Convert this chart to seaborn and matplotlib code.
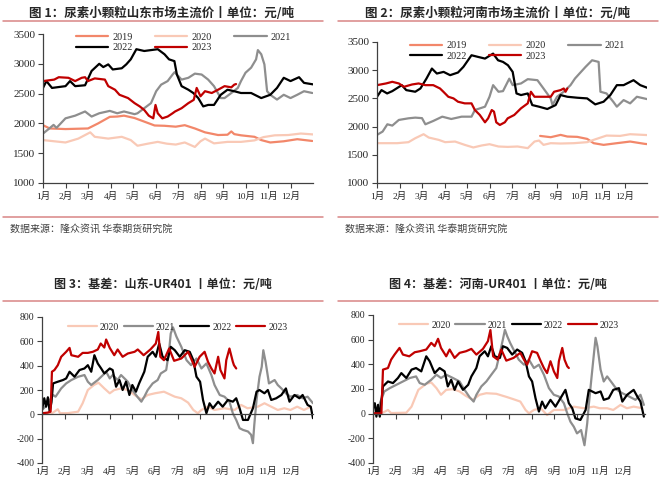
import numpy as np
import pandas as pd
import matplotlib
matplotlib.use("Agg")
import matplotlib.pyplot as plt
from matplotlib.lines import Line2D
import seaborn as sns

MONTHS = [f"{i}月" for i in range(1, 13)]
YEARS_P = ["2019", "2020", "2021", "2022", "2023"]
YEARS_B = ["2020", "2021", "2022", "2023"]
COLORS = {"2019": "#F2876A", "2020": "#F9C9B6", "2021": "#8E8E8E",
          "2022": "#000000", "2023": "#C00000"}

TITLE1 = "图 1：尿素小颗粒山东市场主流价丨单位：元/吨"
TITLE2 = "图 2：尿素小颗粒河南市场主流价丨单位：元/吨"
TITLE3 = "图 3：基差：山东-UR401 丨单位：元/吨"
TITLE4 = "图 4：基差：河南-UR401 丨单位：元/吨"
SOURCE = "数据来源：隆众资讯 华泰期货研究院"

# ---------------- Panel 1: Shandong price ----------------
SD19_M = [0, 0.3, 1.0, 2.0, 2.45, 2.97, 3.3, 3.6, 4.07, 4.5, 4.96, 5.4, 5.9, 6.3, 6.75, 7.2, 7.78, 8.2, 8.37, 8.5, 8.8, 9.4, 9.7, 10.1, 10.7, 11.3, 11.97]
SD19_V = [1970, 1915, 1905, 1915, 2000, 2110, 2115, 2130, 2090, 2030, 1965, 1960, 1945, 1970, 1915, 1850, 1805, 1810, 1865, 1820, 1800, 1775, 1720, 1680, 1700, 1735, 1705]
SD20_M = [0, 1.0, 1.57, 2.1, 2.3, 2.9, 3.5, 3.9, 4.2, 4.66, 5.1, 5.5, 5.9, 6.3, 6.75, 7.0, 7.2, 7.6, 8.2, 8.8, 9.4, 9.8, 10.3, 10.9, 11.46, 12.0]
SD20_V = [1720, 1680, 1745, 1850, 1775, 1745, 1775, 1720, 1625, 1660, 1690, 1660, 1645, 1680, 1605, 1700, 1745, 1665, 1690, 1690, 1715, 1770, 1800, 1805, 1830, 1815]
SD21_M = [0, 0.2, 0.47, 0.6, 1.0, 1.43, 1.87, 2.16, 2.5, 2.97, 3.3, 3.6, 4.07, 4.2, 4.5, 4.8, 5.03, 5.25, 5.54, 5.76, 5.85, 6.16, 6.46, 6.75, 7.05, 7.34, 7.6, 7.9, 8.07, 8.37, 8.66, 8.8, 9.0, 9.25, 9.47, 9.55, 9.7, 9.84, 9.96, 10.1, 10.4, 10.7, 11.0, 11.3, 11.6, 11.97]
SD21_V = [1830, 1890, 1975, 1925, 2085, 2130, 2200, 2115, 2170, 2210, 2170, 2200, 2155, 2170, 2255, 2340, 2540, 2650, 2710, 2820, 2860, 2735, 2765, 2835, 2820, 2735, 2625, 2425, 2425, 2510, 2595, 2710, 2850, 2935, 3075, 3230, 3160, 2990, 2540, 2480, 2400, 2480, 2425, 2480, 2540, 2510]
SD22_M = [0, 0.15, 0.4, 1.0, 1.2, 1.43, 1.87, 2.16, 2.5, 2.68, 2.9, 3.1, 3.5, 3.7, 3.9, 4.15, 4.5, 4.8, 5.1, 5.4, 5.6, 5.84, 5.95, 6.16, 6.46, 6.68, 6.9, 7.12, 7.34, 7.6, 7.9, 8.2, 8.5, 8.8, 9.25, 9.7, 10.1, 10.4, 10.7, 11.0, 11.38, 11.6, 12.0]
SD22_V = [2595, 2710, 2595, 2625, 2710, 2625, 2640, 2880, 3000, 2945, 2990, 2905, 2925, 2990, 3075, 3245, 3215, 3230, 3245, 3160, 3075, 3045, 2820, 2625, 2565, 2510, 2425, 2285, 2310, 2310, 2480, 2565, 2540, 2510, 2510, 2425, 2480, 2595, 2765, 2710, 2775, 2680, 2655]
SD23_M = [0, 0.5, 0.7, 1.13, 1.43, 1.72, 1.87, 2.0, 2.3, 2.75, 2.9, 3.2, 3.4, 3.78, 4.07, 4.3, 4.5, 4.7, 4.9, 5.0, 5.1, 5.3, 5.54, 5.76, 5.87, 6.16, 6.46, 6.7, 6.83, 7.0, 7.2, 7.5, 7.78, 8.07, 8.37, 8.5, 8.58]
SD23_V = [2710, 2735, 2775, 2765, 2710, 2765, 2775, 2710, 2755, 2735, 2625, 2565, 2480, 2425, 2340, 2285, 2225, 2130, 2085, 2310, 2170, 2085, 2115, 2170, 2200, 2255, 2340, 2395, 2595, 2455, 2540, 2510, 2565, 2625, 2605, 2650, 2660]

# ---------------- Panel 2: Henan price ----------------
HN19_M = [7.25, 7.72, 8.16, 8.46, 8.9, 9.34, 9.63, 10.07, 10.66, 11.25, 11.9, 12.0]
HN19_V = [1835, 1812, 1853, 1824, 1818, 1782, 1706, 1676, 1706, 1735, 1694, 1690]
HN20_M = [0, 0.9, 1.4, 1.7, 2.07, 2.3, 2.74, 3.03, 3.47, 3.9, 4.28, 4.65, 5.0, 5.4, 5.81, 6.25, 6.7, 7.0, 7.2, 7.4, 7.72, 8.16, 8.75, 9.34, 9.63, 10.2, 10.8, 11.25, 12.0]
HN20_V = [1706, 1706, 1724, 1794, 1865, 1806, 1765, 1724, 1735, 1676, 1630, 1665, 1688, 1647, 1640, 1647, 1618, 1735, 1753, 1676, 1706, 1700, 1706, 1724, 1765, 1841, 1835, 1865, 1850]
HN21_M = [0, 0.25, 0.46, 0.68, 0.97, 1.4, 1.7, 2.0, 2.15, 2.5, 2.9, 3.3, 3.76, 4.2, 4.35, 4.8, 5.0, 5.16, 5.4, 5.6, 5.88, 6.03, 6.4, 6.7, 7.13, 7.4, 7.72, 7.8, 8.0, 8.3, 8.6, 8.8, 9.0, 9.27, 9.56, 9.85, 9.93, 10.2, 10.5, 10.66, 10.96, 11.25, 11.55, 12.0]
HN21_V = [1853, 1912, 2041, 2018, 2118, 2147, 2159, 2150, 2041, 2100, 2176, 2135, 2176, 2176, 2294, 2353, 2529, 2735, 2618, 2629, 2850, 2735, 2765, 2841, 2823, 2676, 2500, 2382, 2529, 2618, 2735, 2853, 2941, 3059, 3176, 3147, 2618, 2588, 2441, 2353, 2470, 2412, 2529, 2488]
HN22_M = [0, 0.2, 0.45, 0.68, 1.1, 1.3, 1.7, 1.93, 2.2, 2.44, 2.66, 2.96, 3.25, 3.6, 3.84, 4.2, 4.5, 4.8, 5.16, 5.38, 5.6, 5.82, 6.03, 6.2, 6.4, 6.7, 6.9, 7.2, 7.57, 7.94, 8.16, 8.46, 8.9, 9.34, 9.7, 10.07, 10.37, 10.66, 10.96, 11.4, 11.7, 12.0]
HN22_V = [2529, 2647, 2588, 2629, 2735, 2647, 2618, 2676, 2853, 3029, 2941, 2970, 2912, 2959, 3059, 3265, 3235, 3206, 3294, 3176, 3147, 3088, 2970, 2588, 2559, 2588, 2382, 2353, 2312, 2382, 2559, 2529, 2512, 2500, 2394, 2441, 2559, 2735, 2735, 2823, 2735, 2690]
HN23_M = [0, 0.4, 0.68, 0.97, 1.2, 1.56, 1.85, 2.15, 2.5, 2.8, 2.95, 3.17, 3.4, 3.6, 3.9, 4.2, 4.35, 4.57, 4.8, 4.94, 5.1, 5.2, 5.3, 5.46, 5.68, 5.81, 6.1, 6.4, 6.7, 6.84, 7.0, 7.4, 7.72, 7.87, 8.16, 8.3, 8.38, 8.46]
HN23_V = [2735, 2765, 2794, 2765, 2706, 2747, 2765, 2735, 2735, 2676, 2618, 2529, 2500, 2441, 2412, 2412, 2294, 2206, 2076, 2147, 2294, 2265, 2076, 2029, 2076, 2147, 2206, 2324, 2412, 2618, 2529, 2529, 2529, 2618, 2647, 2676, 2618, 2676]

# ---------------- Panel 3: Shandong basis ----------------
BSD20_M = [0, 0.4, 0.7, 0.8, 1.15, 1.6, 1.8, 2.03, 2.3, 2.5, 2.76, 3.0, 3.2, 3.5, 3.8, 4.1, 4.4, 4.68, 5.0, 5.4, 5.88, 6.17, 6.47, 6.7, 6.9, 7.06, 7.35, 7.64, 8.08, 8.53, 8.82, 9.1, 9.56, 9.85, 10.15, 10.44, 10.73, 11.0, 11.3, 11.6, 11.9]
BSD20_V = [9, 3, 42, 9, 10, 22, 91, 200, 241, 260, 213, 173, 200, 213, 200, 159, 123, 159, 173, 186, 145, 132, 96, 36, 9, 36, 63, 36, 50, 36, 77, 50, 63, 91, 63, 36, 50, 36, 63, 36, 63]
BSD21_M = [0, 0.15, 0.3, 0.49, 0.6, 0.85, 1.07, 1.3, 1.6, 1.88, 2.03, 2.18, 2.47, 2.7, 2.84, 3.0, 3.13, 3.35, 3.5, 3.8, 4.0, 4.24, 4.4, 4.53, 4.68, 4.9, 5.12, 5.26, 5.5, 5.63, 5.7, 5.8, 5.95, 6.17, 6.4, 6.6, 6.84, 7.06, 7.28, 7.5, 7.64, 7.87, 8.08, 8.3, 8.45, 8.6, 8.75, 8.9, 9.12, 9.26, 9.34, 9.4, 9.5, 9.63, 9.73, 9.8, 9.9, 10.05, 10.3, 10.44, 10.6, 10.8, 11.0, 11.3, 11.54, 11.76, 12.0]
BSD21_V = [36, 63, 104, 159, 145, 213, 254, 282, 309, 323, 268, 241, 282, 323, 350, 295, 323, 282, 323, 268, 200, 140, 104, 145, 200, 254, 282, 336, 364, 527, 664, 715, 640, 555, 445, 404, 459, 377, 418, 323, 241, 159, 145, 104, 9, -46, -114, -128, -141, -168, -237, -87, 118, 309, 391, 527, 432, 254, 282, 241, 213, 173, 145, 159, 132, 145, 91]
BSD22_M = [0, 0.1, 0.18, 0.26, 0.34, 0.42, 0.49, 0.7, 0.93, 1.07, 1.22, 1.44, 1.66, 1.88, 2.03, 2.18, 2.32, 2.47, 2.62, 2.76, 3.0, 3.13, 3.28, 3.43, 3.57, 3.72, 3.87, 4.0, 4.16, 4.3, 4.53, 4.68, 4.9, 5.04, 5.19, 5.34, 5.56, 5.7, 5.88, 6.1, 6.32, 6.54, 6.7, 6.84, 7.0, 7.13, 7.28, 7.42, 7.57, 7.8, 8.0, 8.23, 8.45, 8.6, 8.75, 8.9, 9.12, 9.34, 9.5, 9.63, 9.85, 10.0, 10.15, 10.37, 10.6, 10.8, 10.96, 11.18, 11.4, 11.54, 11.76, 11.9, 12.0]
BSD22_V = [36, 132, 63, 140, 22, 100, 254, 268, 282, 295, 350, 309, 364, 377, 404, 350, 486, 418, 377, 336, 377, 364, 227, 282, 200, 268, 159, 241, 186, 254, 350, 473, 514, 473, 582, 473, 445, 555, 527, 473, 527, 514, 445, 309, 268, 118, 9, 91, 50, 104, 63, 118, 104, 132, 50, -46, -46, 50, 186, 200, 173, 200, 118, 132, 159, 213, 104, 159, 132, 159, 77, 63, -32]
BSD23_M = [0, 0.25, 0.38, 0.44, 0.55, 0.7, 0.85, 1.07, 1.22, 1.3, 1.6, 1.8, 2.03, 2.25, 2.47, 2.6, 2.76, 2.84, 3.0, 3.2, 3.35, 3.57, 3.8, 4.1, 4.24, 4.5, 4.8, 5.04, 5.15, 5.24, 5.4, 5.63, 5.85, 6.17, 6.47, 6.6, 6.76, 6.98, 7.2, 7.35, 7.5, 7.64, 7.8, 7.9, 8.08, 8.16, 8.3, 8.45, 8.5, 8.6]
BSD23_V = [9, 14, 22, 350, 364, 404, 473, 514, 546, 486, 473, 505, 505, 514, 533, 582, 549, 615, 546, 486, 533, 473, 500, 514, 533, 486, 533, 582, 677, 473, 445, 541, 440, 459, 514, 459, 391, 473, 514, 432, 377, 336, 473, 364, 295, 445, 541, 432, 404, 377]

# ---------------- Panel 4: Henan basis ----------------
BHN20_M = [0, 0.4, 0.66, 0.8, 1.47, 1.7, 2.0, 2.35, 2.57, 2.8, 3.0, 3.23, 3.53, 3.82, 4.1, 4.4, 4.7, 5.0, 5.44, 5.92, 6.2, 6.5, 6.73, 6.88, 7.1, 7.4, 7.68, 7.98, 8.42, 8.86, 9.3, 9.74, 10.0, 10.33, 10.6, 10.92, 11.2, 11.5, 11.88]
BHN20_V = [3, 5, 30, 5, 8, 57, 193, 242, 253, 207, 153, 193, 199, 180, 144, 112, 153, 166, 161, 134, 117, 98, 30, 3, 30, 44, -11, 30, 30, 57, 44, 57, 44, 44, 30, 71, 44, 57, 44]
BHN21_M = [0, 0.22, 0.5, 0.74, 1.03, 1.32, 1.62, 1.9, 2.06, 2.28, 2.57, 2.8, 3.0, 3.23, 3.53, 3.82, 4.04, 4.26, 4.44, 4.56, 4.78, 5.0, 5.22, 5.44, 5.6, 5.73, 5.82, 5.92, 6.05, 6.2, 6.43, 6.66, 6.88, 7.1, 7.32, 7.54, 7.76, 7.98, 8.2, 8.42, 8.57, 8.71, 8.86, 9.0, 9.18, 9.33, 9.45, 9.52, 9.63, 9.72, 9.82, 9.9, 10.04, 10.18, 10.33, 10.55, 10.77, 11.0, 11.3, 11.58, 11.8, 11.95]
BHN21_V = [57, 44, 180, 207, 234, 261, 289, 302, 248, 234, 275, 316, 289, 316, 289, 261, 193, 134, 98, 153, 221, 261, 316, 370, 493, 601, 680, 629, 574, 520, 438, 397, 438, 370, 397, 316, 207, 153, 139, 85, 3, -65, -106, -160, -133, -256, -79, 71, 275, 438, 615, 547, 357, 261, 302, 248, 193, 166, 139, 112, 153, 71]
BHN22_M = [0, 0.08, 0.15, 0.22, 0.3, 0.37, 0.44, 0.66, 0.88, 1.1, 1.25, 1.47, 1.7, 1.9, 2.13, 2.35, 2.5, 2.72, 2.94, 3.16, 3.3, 3.45, 3.6, 3.75, 3.97, 4.2, 4.34, 4.56, 4.7, 4.93, 5.07, 5.22, 5.37, 5.6, 5.73, 5.92, 6.14, 6.36, 6.58, 6.73, 6.88, 7.02, 7.17, 7.32, 7.46, 7.6, 7.83, 8.05, 8.27, 8.49, 8.64, 8.79, 8.93, 9.15, 9.38, 9.52, 9.67, 9.82, 10.04, 10.18, 10.4, 10.6, 10.85, 11.0, 11.21, 11.5, 11.66, 11.8, 11.95]
BHN22_V = [44, 85, -24, 71, -24, 100, 221, 261, 248, 289, 329, 289, 357, 370, 343, 465, 425, 329, 370, 343, 221, 275, 193, 261, 193, 234, 302, 370, 465, 506, 465, 547, 465, 452, 547, 533, 479, 520, 493, 425, 302, 261, 125, 17, 98, 44, 112, 57, 125, 193, 85, 44, -38, -51, 30, 193, 180, 166, 180, 112, 125, 193, 207, 98, 153, 193, 139, 98, -24]
BHN23_M = [0, 0.37, 0.44, 0.66, 0.8, 0.95, 1.17, 1.32, 1.6, 1.84, 2.06, 2.35, 2.57, 2.72, 2.87, 3.0, 3.23, 3.38, 3.6, 3.82, 4.1, 4.34, 4.56, 4.85, 5.07, 5.18, 5.3, 5.5, 5.66, 5.88, 6.2, 6.5, 6.66, 6.8, 7.02, 7.24, 7.4, 7.54, 7.68, 7.83, 7.98, 8.13, 8.2, 8.35, 8.45, 8.57, 8.64]
BHN23_V = [3, 3, 357, 370, 438, 479, 533, 479, 465, 498, 506, 520, 574, 547, 607, 533, 465, 520, 452, 493, 506, 525, 479, 525, 588, 678, 465, 438, 520, 430, 452, 493, 438, 397, 506, 493, 425, 370, 329, 425, 343, 289, 425, 533, 438, 384, 370]


def build(series):
    frames = []
    for year, (m, v) in series.items():
        frames.append(pd.DataFrame({"month": m, "value": v, "year": year, "order": range(len(m))}))
    return pd.concat(frames, ignore_index=True)


df1 = build({"2019": (SD19_M, SD19_V), "2020": (SD20_M, SD20_V), "2021": (SD21_M, SD21_V),
             "2022": (SD22_M, SD22_V), "2023": (SD23_M, SD23_V)})
df2 = build({"2019": (HN19_M, HN19_V), "2020": (HN20_M, HN20_V), "2021": (HN21_M, HN21_V),
             "2022": (HN22_M, HN22_V), "2023": (HN23_M, HN23_V)})
df3 = build({"2020": (BSD20_M, BSD20_V), "2021": (BSD21_M, BSD21_V),
             "2022": (BSD22_M, BSD22_V), "2023": (BSD23_M, BSD23_V)})
df4 = build({"2020": (BHN20_M, BHN20_V), "2021": (BHN21_M, BHN21_V),
             "2022": (BHN22_M, BHN22_V), "2023": (BHN23_M, BHN23_V)})

sns.set_theme(style="white")
plt.rcParams["font.family"] = ["Liberation Serif", "Noto Sans CJK SC", "DejaVu Sans"]
plt.rcParams["axes.unicode_minus"] = False

fig = plt.figure(figsize=(6.59, 4.82), dpi=100)
fig.patch.set_facecolor("white")

W, H = 659.0, 482.0
def ax_at(l, r, t, b):
    return fig.add_axes([l / W, 1 - b / H, (r - l) / W, (b - t) / H])

ax1 = ax_at(43, 313, 34, 183)
ax2 = ax_at(377, 647, 42, 183)
ax3 = ax_at(42, 313, 317, 463)
ax4 = ax_at(373, 645, 315, 463)

LW = 1.6


def draw(ax, df, years, ylim, yticks, basis, fs_y, fs_x, fs_leg):
    sns.lineplot(data=df, x="month", y="value", hue="year", hue_order=years,
                 palette=COLORS, estimator=None, sort=False, units="year",
                 linewidth=LW, ax=ax, legend=False)
    ax.set_xlim(0, 12)
    ax.set_ylim(*ylim)
    ax.set_yticks(yticks)
    ax.set_yticklabels([str(t) for t in yticks], fontsize=fs_y)
    ax.set_xlabel("")
    ax.set_ylabel("")
    for s in ["top", "right"]:
        ax.spines[s].set_visible(False)
    for s in ["left", "bottom"]:
        ax.spines[s].set_color("#404040")
        ax.spines[s].set_linewidth(0.9)
    ax.tick_params(axis="y", direction="out", length=3.5, width=0.8, color="#404040", pad=2, left=True)
    ax.tick_params(axis="x", direction="out", length=3.5, width=0.8, color="#404040", bottom=True)
    ax.set_xticks(range(12))
    if basis:
        ax.spines["bottom"].set_position(("data", 0))
        ax.tick_params(axis="x", labelbottom=False)
        sec = ax.secondary_xaxis("bottom")
        sec.set_xticks(range(12))
        sec.set_xticklabels(MONTHS, fontsize=fs_x)
        sec.tick_params(length=0, pad=3)
        sec.spines["bottom"].set_visible(False)
    else:
        ax.set_xticklabels(MONTHS, fontsize=fs_x)
        ax.tick_params(axis="x", pad=3)
    handles = {y: Line2D([], [], color=COLORS[y], lw=LW) for y in years}
    if len(years) == 5:
        order = ["2019", "2022", "2020", "2023", "2021"]
        ax.legend([handles[y] for y in order], order, ncol=3, frameon=False,
                  loc="upper center", bbox_to_anchor=(0.52, 1.07), fontsize=fs_leg,
                  handlelength=3.2, columnspacing=2.2, handletextpad=0.4, labelspacing=0.15)
    else:
        ax.legend([handles[y] for y in years], years, ncol=4, frameon=False,
                  loc="upper center", bbox_to_anchor=(0.5, 1.02), fontsize=fs_leg,
                  handlelength=3.0, columnspacing=0.5, handletextpad=0.3)


draw(ax1, df1, YEARS_P, (1000, 3500), list(range(1000, 3501, 500)), False, 8, 6.8, 7.3)
draw(ax2, df2, YEARS_P, (1000, 3500), list(range(1000, 3501, 500)), False, 8, 6.8, 7.3)
draw(ax3, df3, YEARS_B, (-400, 800), list(range(-400, 801, 200)), True, 7, 6.8, 7)
draw(ax4, df4, YEARS_B, (-400, 800), list(range(-400, 801, 200)), True, 7, 6.8, 7)

TFONT = ["Noto Sans CJK SC", "DejaVu Sans"]
LINE_C = "#D98585"
# titles and decoration
fig.text(162 / W, 1 - 13 / H, TITLE1, ha="center", va="center", fontsize=9, fontweight="bold", family=TFONT)
fig.text(498 / W, 1 - 13 / H, TITLE2, ha="center", va="center", fontsize=9, fontweight="bold", family=TFONT)
fig.text(163 / W, 1 - 285 / H, TITLE3, ha="center", va="center", fontsize=8.7, fontweight="bold", family=TFONT)
fig.text(498 / W, 1 - 285 / H, TITLE4, ha="center", va="center", fontsize=8.7, fontweight="bold", family=TFONT)
for (x0, x1, yy) in [(3, 323, 21), (338, 658, 21), (3, 323, 217), (338, 658, 217), (3, 323, 301), (338, 658, 301)]:
    fig.add_artist(Line2D([x0 / W, x1 / W], [1 - yy / H, 1 - yy / H], color=LINE_C, lw=1.1, transform=fig.transFigure))
fig.text(10 / W, 1 - 229 / H, SOURCE, ha="left", va="center", fontsize=7.2, color="#404040", family=TFONT)
fig.text(345 / W, 1 - 229 / H, SOURCE, ha="left", va="center", fontsize=7.2, color="#404040", family=TFONT)

fig.savefig("out.png", dpi=100, facecolor="white")
